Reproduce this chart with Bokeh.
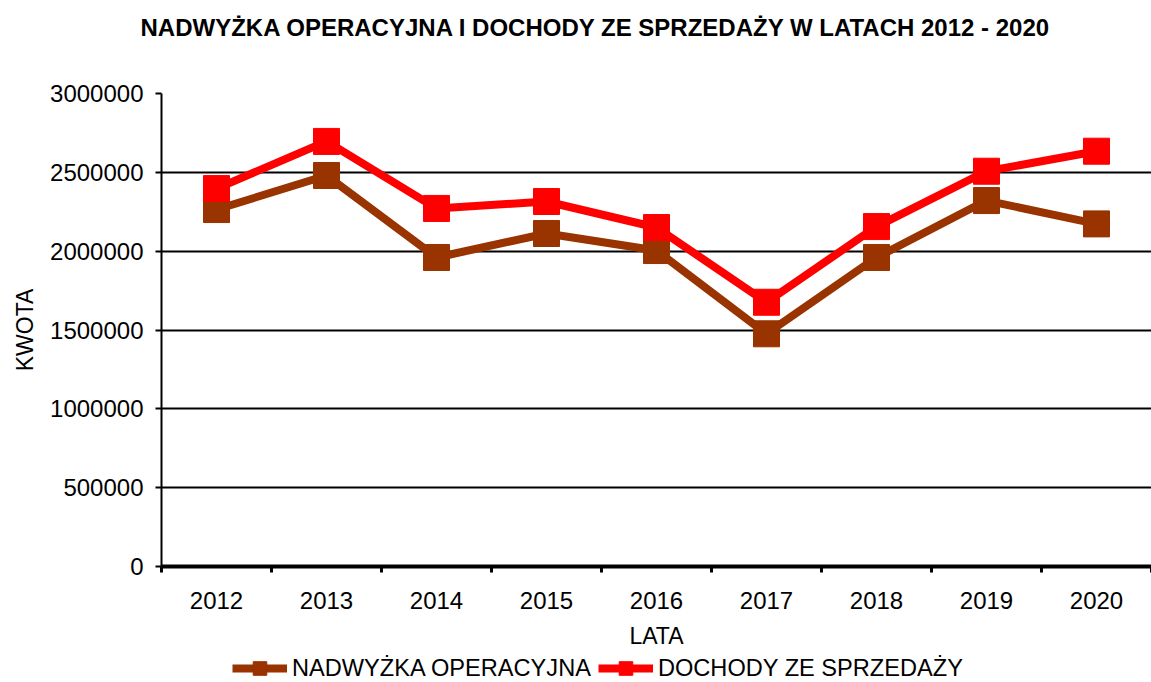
from bokeh.plotting import figure
from bokeh.layouts import column
from bokeh.models import (FixedTicker, Range1d, Legend, LegendItem, Title,
                          SingleIntervalTicker, BasicTickFormatter)
from bokeh.embed import file_html
from bokeh.resources import INLINE

years = ["2012", "2013", "2014", "2015", "2016", "2017", "2018", "2019", "2020"]
nadwyzka = [2264000, 2480000, 1960000, 2112000, 2004000, 1476000, 1960000, 2321000, 2173000]
dochody = [2397000, 2696000, 2271000, 2315000, 2150000, 1676000, 2156000, 2507000, 2634000]

title_text = "NADWYŻKA OPERACYJNA I DOCHODY ZE SPRZEDAŻY W LATACH 2012 - 2020"
series_names = ["NADWYŻKA OPERACYJNA", "DOCHODY ZE SPRZEDAŻY"]
x_label = "LATA"
y_label = "KWOTA"

FONT = "Liberation Sans"
BROWN = "#993300"
RED = "#FF0000"
series = [(nadwyzka, BROWN, series_names[0]), (dochody, RED, series_names[1])]

n = len(years)
xs = [i + 0.5 for i in range(n)]


def strip(height):
    f = figure(width=1151, height=height, output_backend="svg", toolbar_location=None,
               x_range=Range1d(0, n), y_range=Range1d(-2, -1),
               x_axis_type=None, y_axis_type=None,
               min_border_left=0, min_border_right=0, min_border_top=0, min_border_bottom=0)
    f.outline_line_color = None
    f.xgrid.grid_line_color = None
    f.ygrid.grid_line_color = None
    return f


# title strip
tp = strip(60)
tp.title = Title(text=title_text, align="left", offset=-21, standoff=26,
                 vertical_align="top",
                 text_font=FONT, text_font_size="24px", text_font_style="bold",
                 text_color="black")

p = figure(frame_width=990, frame_height=473, output_backend="svg", toolbar_location=None,
           x_range=Range1d(0, n), y_range=Range1d(0, 3000000),
           min_border_left=161, min_border_right=0, min_border_top=33,
           min_border_bottom=82)
p.outline_line_color = None
p.background_fill_color = "white"
p.border_fill_color = "white"

# x axis
xa = p.xaxis[0]
xa.ticker = FixedTicker(ticks=xs, minor_ticks=list(range(n + 1)))
xa.major_label_overrides = {x: y for x, y in zip(xs, years)}
xa.major_tick_line_color = None
xa.major_tick_out = 6
xa.major_tick_in = 0
xa.minor_tick_out = 6
xa.minor_tick_in = 0
xa.minor_tick_line_color = "black"
xa.minor_tick_line_width = 3
xa.axis_line_color = "black"
xa.axis_line_width = 4
xa.major_label_standoff = 19
xa.major_label_text_font = FONT
xa.major_label_text_font_size = "24px"
xa.major_label_text_color = "black"
xa.axis_label = x_label
xa.axis_label_text_font = FONT
xa.axis_label_text_font_size = "23px"
xa.axis_label_text_font_style = "normal"
xa.axis_label_text_color = "black"
xa.axis_label_standoff = 11

# y axis
ya = p.yaxis[0]
ya.ticker = SingleIntervalTicker(interval=500000, num_minor_ticks=0)
ya.formatter = BasicTickFormatter(use_scientific=False)
ya.major_tick_out = 6
ya.major_tick_in = 0
ya.major_tick_line_width = 2
ya.major_tick_line_color = "black"
ya.minor_tick_line_color = None
ya.axis_line_color = "black"
ya.axis_line_width = 2
ya.major_label_standoff = 12
ya.major_label_text_font = FONT
ya.major_label_text_font_size = "24px"
ya.major_label_text_color = "black"
ya.axis_label = y_label
ya.axis_label_text_font = FONT
ya.axis_label_text_font_size = "23px"
ya.axis_label_text_font_style = "normal"
ya.axis_label_text_color = "black"
ya.axis_label_standoff = 9

p.xgrid.grid_line_color = None
p.ygrid.ticker = SingleIntervalTicker(interval=500000)
p.ygrid.grid_line_color = "black"
p.ygrid.grid_line_width = 2

for vals, color, name in series:
    p.line(xs, vals, line_color=color, line_width=8)
    p.scatter(xs, vals, marker="square", size=26, fill_color=color, line_color=color)

# legend strip below the chart (its own marks fall outside its view)
lp = strip(34)
items = []
for vals, color, name in series:
    ln = lp.line(xs, vals, line_color=color, line_width=8)
    sq = lp.scatter(xs, vals, marker="square", size=26, fill_color=color, line_color=color)
    items.append(LegendItem(label=name, renderers=[ln, sq]))

legend = Legend(items=items, orientation="horizontal", location=(71, 0),
                glyph_width=55, glyph_height=34, label_standoff=5, spacing=7,
                padding=0, margin=0, border_line_color=None,
                background_fill_alpha=0,
                label_text_font=FONT, label_text_font_size="23.6px",
                label_text_color="black")
lp.add_layout(legend)

layout = column(tp, p, lp, spacing=0)
open("out.html", "w").write(file_html(layout, INLINE))
